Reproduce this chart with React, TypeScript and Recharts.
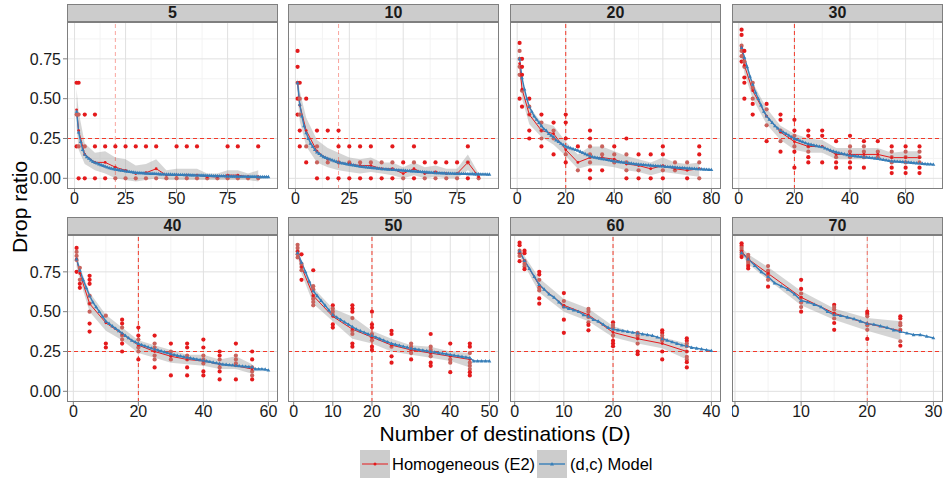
import React from 'react';
import { ComposedChart, XAxis, YAxis, CartesianGrid, Scatter, Area, Line, ReferenceLine } from 'recharts';

const RED = '#e41a1c';
const RED_DIM = '#c9625c';
const DASH_RED = '#f23a2a';
const BLUE = '#377eb8';
const FONT = '"Liberation Sans", Arial, Helvetica, sans-serif';

// ---------- data ----------
const panelLabels = ['5', '10', '20', '30', '40', '50', '60', '70'];

const xs5 = [1, 2, 5, 10, 15, 20, 25, 30, 35, 40, 45, 50, 55, 60, 65, 70, 75, 80, 85, 90];
const pts5 = [[0.6, 0.4, 0.2], [0.6, 0.4, 0.2, 0], [0.4, 0.2, 0], [0.4, 0.2, 0], [0.2, 0], [0.2, 0], [0.2, 0], [0.2, 0], [0.2, 0], [0.2, 0], [0], [0.2, 0], [0.2, 0], [0.2, 0], [0], [0], [0.2, 0], [0.2, 0], [0], [0.2, 0]];
const mean5 = [0.43, 0.3, 0.15, 0.1, 0.1, 0.07, 0.05, 0.03, 0.035, 0.06, 0.02, 0.02, 0.02, 0.02, 0.01, 0.01, 0.02, 0.02, 0.01, 0.01];
const low5 = [0.32, 0.18, 0.09, 0.05, 0.03, 0.0, -0.01, -0.02, -0.01, 0.0, -0.01, -0.01, -0.01, -0.01, -0.01, -0.01, -0.01, -0.01, -0.01, -0.02];
const high5 = [0.56, 0.42, 0.22, 0.16, 0.17, 0.13, 0.12, 0.08, 0.09, 0.12, 0.05, 0.06, 0.06, 0.06, 0.03, 0.03, 0.05, 0.05, 0.03, 0.05];
const model5 = [0.42, 0.29, 0.23, 0.18, 0.15, 0.135, 0.125, 0.115, 0.105, 0.1, 0.095, 0.09, 0.085, 0.08, 0.075, 0.07, 0.065, 0.062, 0.06, 0.057, 0.055, 0.052, 0.05, 0.048, 0.046, 0.044, 0.042, 0.04, 0.038, 0.036, 0.035, 0.035, 0.034, 0.033, 0.032, 0.031, 0.03, 0.03, 0.03, 0.029, 0.028, 0.027, 0.026, 0.026, 0.025, 0.025, 0.025, 0.024, 0.024, 0.024, 0.023, 0.023, 0.023, 0.022, 0.022, 0.022, 0.021, 0.021, 0.02, 0.02, 0.02, 0.019, 0.019, 0.018, 0.018, 0.017, 0.017, 0.016, 0.016, 0.016, 0.015, 0.015, 0.015, 0.014, 0.014, 0.014, 0.013, 0.013, 0.013, 0.013, 0.012, 0.012, 0.012, 0.012, 0.011, 0.011, 0.011, 0.011, 0.011, 0.01, 0.01, 0.01, 0.01, 0.01, 0.01];

const xs10 = [1, 2, 5, 10, 15, 20, 25, 30, 35, 40, 45, 50, 55, 60, 65, 70, 75, 80, 85];
const pts10 = [[0.8, 0.7, 0.6, 0.5, 0.4], [0.6, 0.5, 0.4, 0.3, 0.2], [0.5, 0.2, 0.1], [0.3, 0.2, 0.1, 0], [0.3, 0.1, 0], [0.3, 0.2, 0.1, 0], [0.2, 0.1, 0], [0.2, 0.1, 0], [0.2, 0.1, 0], [0.1, 0], [0.2, 0.1, 0], [0.1, 0], [0.2, 0.1, 0], [0.1, 0], [0.1, 0], [0.1, 0], [0.1, 0], [0.2, 0.1, 0], [0]];
const mean10 = [0.6, 0.46, 0.3, 0.17, 0.12, 0.1, 0.09, 0.08, 0.08, 0.06, 0.06, 0.03, 0.06, 0.03, 0.04, 0.03, 0.03, 0.1, 0.01];
const low10 = [0.52, 0.36, 0.2, 0.1, 0.07, 0.05, 0.04, 0.03, 0.04, 0.03, 0.02, 0.0, 0.02, 0.0, 0.01, 0.0, 0.0, 0.05, 0.0];
const high10 = [0.63, 0.55, 0.38, 0.24, 0.19, 0.16, 0.13, 0.12, 0.13, 0.1, 0.1, 0.07, 0.1, 0.07, 0.08, 0.06, 0.06, 0.15, 0.03];
const model10 = [0.6, 0.465, 0.39, 0.33, 0.285, 0.25, 0.22, 0.2, 0.18, 0.165, 0.155, 0.145, 0.135, 0.13, 0.125, 0.12, 0.115, 0.11, 0.105, 0.1, 0.097, 0.095, 0.093, 0.09, 0.088, 0.085, 0.083, 0.08, 0.078, 0.075, 0.073, 0.072, 0.07, 0.069, 0.068, 0.066, 0.065, 0.063, 0.062, 0.06, 0.059, 0.058, 0.057, 0.056, 0.055, 0.054, 0.053, 0.052, 0.051, 0.05, 0.049, 0.048, 0.047, 0.046, 0.045, 0.044, 0.043, 0.042, 0.041, 0.04, 0.039, 0.038, 0.037, 0.036, 0.035, 0.034, 0.034, 0.033, 0.033, 0.032, 0.032, 0.031, 0.031, 0.03, 0.03, 0.03, 0.029, 0.029, 0.029, 0.028, 0.028, 0.028, 0.027, 0.027, 0.027, 0.026, 0.026, 0.026, 0.025, 0.025];

const xs20 = [1, 2, 5, 10, 15, 20, 25, 30, 35, 40, 45, 50, 55, 60, 65, 70, 75];
const pts20 = [[0.85, 0.8, 0.75, 0.7, 0.65, 0.5], [0.75, 0.7, 0.65, 0.55, 0.45], [0.5, 0.45, 0.4, 0.3, 0.25], [0.4, 0.35, 0.3, 0.25, 0.2], [0.35, 0.3, 0.25, 0.15], [0.4, 0.35, 0.25, 0.15, 0.1], [0.2, 0.05], [0.3, 0.25, 0.2, 0.15, 0.1, 0.05, 0], [0.2, 0.15, 0.05], [0.2, 0.15, 0.1], [0.25, 0.15, 0.1, 0.05, 0], [0.15, 0.05, 0], [0.15, 0], [0.2, 0.15, 0.05, 0], [0.1, 0.05], [0.1, 0], [0.2, 0.15, 0.1, 0]];
const mean20 = [0.72, 0.56, 0.4, 0.3, 0.28, 0.18, 0.1, 0.13, 0.13, 0.12, 0.09, 0.08, 0.06, 0.08, 0.06, 0.05, 0.06];
const low20 = [0.66, 0.5, 0.34, 0.26, 0.21, 0.14, 0.06, 0.08, 0.08, 0.07, 0.05, 0.04, 0.02, 0.04, 0.03, 0.02, 0.01];
const high20 = [0.79, 0.62, 0.45, 0.35, 0.33, 0.23, 0.15, 0.2, 0.2, 0.17, 0.14, 0.12, 0.1, 0.13, 0.1, 0.09, 0.1];
const model20 = [0.75, 0.63, 0.56, 0.5, 0.45, 0.42, 0.39, 0.37, 0.35, 0.33, 0.31, 0.3, 0.28, 0.27, 0.26, 0.24, 0.23, 0.22, 0.21, 0.2, 0.195, 0.19, 0.185, 0.18, 0.175, 0.168, 0.161, 0.154, 0.147, 0.14, 0.135, 0.132, 0.129, 0.126, 0.123, 0.12, 0.117, 0.114, 0.111, 0.108, 0.106, 0.104, 0.102, 0.1, 0.098, 0.096, 0.094, 0.092, 0.09, 0.088, 0.087, 0.086, 0.084, 0.083, 0.082, 0.08, 0.079, 0.078, 0.077, 0.076, 0.074, 0.073, 0.072, 0.071, 0.07, 0.068, 0.067, 0.066, 0.065, 0.064, 0.063, 0.062, 0.061, 0.06, 0.059, 0.058, 0.057, 0.056, 0.055, 0.054];

const xs30 = [1, 2, 5, 10, 15, 20, 25, 30, 35, 40, 45, 50, 55, 60, 65];
const pts30 = [[0.933, 0.9, 0.833, 0.8, 0.767, 0.733], [0.8, 0.733, 0.7, 0.633, 0.6, 0.5], [0.6, 0.567, 0.5, 0.467, 0.4], [0.467, 0.433, 0.333, 0.233], [0.4, 0.367, 0.3, 0.233, 0.167], [0.367, 0.3, 0.267, 0.2, 0.167, 0.067], [0.3, 0.267, 0.2, 0.167, 0.133, 0.1], [0.3, 0.267, 0.1], [0.233, 0.133, 0.1, 0.067], [0.267, 0.2, 0.167, 0.133, 0.1, 0.067], [0.233, 0.2, 0.167, 0.133, 0.067], [0.233, 0.167, 0.133], [0.2, 0.167, 0.133, 0.1, 0.067, 0.033], [0.2, 0.167, 0.133, 0.1, 0.067, 0.033], [0.2, 0.167, 0.133, 0.1, 0.067, 0.033]];
const mean30 = [0.82, 0.71, 0.55, 0.39, 0.29, 0.23, 0.2, 0.2, 0.15, 0.15, 0.15, 0.15, 0.13, 0.13, 0.13];
const low30 = [0.77, 0.66, 0.5, 0.34, 0.24, 0.18, 0.16, 0.16, 0.12, 0.12, 0.12, 0.13, 0.1, 0.1, 0.1];
const high30 = [0.87, 0.77, 0.6, 0.44, 0.33, 0.28, 0.25, 0.24, 0.19, 0.19, 0.19, 0.19, 0.16, 0.17, 0.17];
const model30 = [0.82, 0.76, 0.7, 0.64, 0.59, 0.54, 0.5, 0.46, 0.42, 0.39, 0.37, 0.35, 0.33, 0.315, 0.3, 0.29, 0.28, 0.27, 0.26, 0.25, 0.243, 0.236, 0.229, 0.222, 0.216, 0.212, 0.208, 0.204, 0.2, 0.197, 0.19, 0.183, 0.176, 0.17, 0.165, 0.16, 0.156, 0.152, 0.148, 0.144, 0.142, 0.14, 0.138, 0.136, 0.134, 0.132, 0.13, 0.128, 0.126, 0.124, 0.12, 0.117, 0.114, 0.111, 0.108, 0.107, 0.106, 0.105, 0.104, 0.103, 0.101, 0.099, 0.097, 0.096, 0.095, 0.093, 0.091, 0.09, 0.089, 0.087];

const xs40 = [1, 2, 5, 10, 15, 20, 25, 30, 35, 40, 45, 50, 55];
const pts40 = [[0.9, 0.875, 0.85, 0.825, 0.75], [0.775, 0.7, 0.675, 0.65], [0.725, 0.7, 0.675, 0.6, 0.55, 0.5, 0.425, 0.375], [0.475, 0.3, 0.275], [0.45, 0.425, 0.4, 0.35, 0.325, 0.3, 0.25], [0.4, 0.35, 0.325, 0.275, 0.25, 0.2], [0.35, 0.3, 0.275, 0.225, 0.2, 0.15], [0.3, 0.25, 0.225, 0.2, 0.1], [0.3, 0.275, 0.225, 0.2, 0.15, 0.1], [0.325, 0.275, 0.225, 0.2, 0.175, 0.125, 0.1], [0.25, 0.225, 0.2, 0.15, 0.125, 0.075], [0.3, 0.225, 0.2, 0.175, 0.075], [0.25, 0.2, 0.15, 0.125, 0.1, 0.075]];
const mean40 = [0.83, 0.74, 0.55, 0.43, 0.36, 0.29, 0.25, 0.22, 0.2, 0.19, 0.17, 0.16, 0.14];
const low40 = [0.78, 0.7, 0.5, 0.38, 0.32, 0.24, 0.21, 0.18, 0.17, 0.16, 0.14, 0.14, 0.11];
const high40 = [0.87, 0.78, 0.62, 0.48, 0.4, 0.32, 0.29, 0.26, 0.23, 0.23, 0.2, 0.22, 0.17];
const model40 = [0.83, 0.76, 0.7, 0.65, 0.6, 0.56, 0.53, 0.5, 0.47, 0.44, 0.425, 0.41, 0.395, 0.38, 0.365, 0.35, 0.335, 0.32, 0.31, 0.3, 0.292, 0.285, 0.278, 0.271, 0.265, 0.259, 0.253, 0.247, 0.241, 0.235, 0.23, 0.225, 0.221, 0.217, 0.213, 0.209, 0.205, 0.201, 0.198, 0.195, 0.19, 0.186, 0.182, 0.178, 0.174, 0.17, 0.168, 0.166, 0.164, 0.162, 0.16, 0.158, 0.156, 0.154, 0.152, 0.14, 0.14, 0.14, 0.138, 0.133];

const xs50 = [1, 2, 5, 10, 15, 20, 25, 30, 35, 40, 45];
const pts50 = [[0.92, 0.9, 0.88, 0.86, 0.84], [0.86, 0.8, 0.78, 0.76, 0.7], [0.76, 0.66, 0.64, 0.6, 0.58, 0.56, 0.54], [0.54, 0.52, 0.5, 0.48, 0.42, 0.4], [0.54, 0.52, 0.5, 0.46, 0.38, 0.36, 0.3, 0.28], [0.5, 0.42, 0.4, 0.36, 0.34, 0.32, 0.28, 0.26], [0.38, 0.36, 0.28, 0.22, 0.18], [0.3, 0.28, 0.26, 0.24, 0.2], [0.36, 0.28, 0.26, 0.24, 0.22, 0.18, 0.16], [0.3, 0.2, 0.18, 0.12], [0.3, 0.28, 0.24, 0.18, 0.16, 0.14, 0.12, 0.1]];
const mean50 = [0.88, 0.78, 0.6, 0.47, 0.39, 0.34, 0.29, 0.26, 0.24, 0.22, 0.2];
const low50 = [0.85, 0.74, 0.55, 0.44, 0.33, 0.3, 0.25, 0.23, 0.21, 0.19, 0.15];
const high50 = [0.91, 0.82, 0.65, 0.52, 0.47, 0.38, 0.33, 0.29, 0.28, 0.25, 0.24];
const model50 = [0.87, 0.81, 0.75, 0.69, 0.63, 0.6, 0.57, 0.54, 0.51, 0.48, 0.465, 0.45, 0.435, 0.42, 0.405, 0.39, 0.38, 0.37, 0.36, 0.35, 0.34, 0.33, 0.32, 0.31, 0.3, 0.294, 0.288, 0.282, 0.276, 0.27, 0.266, 0.262, 0.258, 0.254, 0.25, 0.246, 0.242, 0.238, 0.234, 0.23, 0.226, 0.222, 0.218, 0.214, 0.21, 0.19, 0.19, 0.19, 0.19, 0.19];

const xs60 = [1, 2, 5, 10, 15, 20, 25, 30, 35];
const pts60 = [[0.933, 0.917, 0.883, 0.867, 0.85, 0.817], [0.883, 0.867, 0.817, 0.8, 0.783, 0.767], [0.75, 0.733, 0.7, 0.65, 0.633, 0.583, 0.55], [0.617, 0.567, 0.533, 0.45, 0.367], [0.517, 0.5, 0.467, 0.433, 0.417, 0.383], [0.433, 0.417, 0.4, 0.35, 0.317, 0.3, 0.283], [0.367, 0.35, 0.333, 0.3, 0.25, 0.233], [0.383, 0.367, 0.35, 0.333, 0.317, 0.25, 0.2], [0.333, 0.317, 0.3, 0.283, 0.25, 0.217, 0.2, 0.183, 0.15]];
const mean60 = [0.87, 0.82, 0.665, 0.54, 0.48, 0.37, 0.33, 0.3, 0.25];
const low60 = [0.85, 0.79, 0.62, 0.5, 0.44, 0.34, 0.3, 0.27, 0.2];
const high60 = [0.9, 0.85, 0.71, 0.58, 0.52, 0.41, 0.36, 0.34, 0.3];
const model60 = [0.88, 0.82, 0.77, 0.72, 0.67, 0.64, 0.61, 0.59, 0.56, 0.53, 0.52, 0.51, 0.5, 0.48, 0.47, 0.45, 0.44, 0.42, 0.4, 0.39, 0.385, 0.38, 0.375, 0.37, 0.365, 0.36, 0.355, 0.35, 0.34, 0.33, 0.32, 0.31, 0.3, 0.29, 0.285, 0.275, 0.27, 0.265, 0.26, 0.255];

const xs70 = [1, 2, 5, 10, 15, 20, 25];
const pts70 = [[0.929, 0.914, 0.9, 0.886, 0.871, 0.857, 0.843], [0.857, 0.843, 0.829, 0.814, 0.8, 0.786, 0.771], [0.786, 0.757, 0.743, 0.729, 0.7, 0.657], [0.7, 0.643, 0.614, 0.586, 0.557, 0.529, 0.5], [0.543, 0.529, 0.514, 0.486, 0.457, 0.429, 0.386], [0.5, 0.486, 0.471, 0.414, 0.386, 0.329], [0.471, 0.457, 0.429, 0.414, 0.386, 0.314, 0.286]];
const mean70 = [0.88, 0.83, 0.74, 0.59, 0.49, 0.425, 0.38];
const low70 = [0.86, 0.8, 0.7, 0.54, 0.45, 0.38, 0.32];
const high70 = [0.9, 0.86, 0.78, 0.63, 0.52, 0.46, 0.44];
const model70 = [0.87, 0.83, 0.79, 0.75, 0.72, 0.68, 0.66, 0.64, 0.61, 0.57, 0.56, 0.545, 0.53, 0.5, 0.48, 0.475, 0.465, 0.455, 0.44, 0.425, 0.42, 0.41, 0.4, 0.385, 0.375, 0.365, 0.355, 0.355, 0.345, 0.335];

const xTicks = [[0, 25, 50, 75], [0, 25, 50, 75], [0, 20, 40, 60, 80], [0, 20, 40, 60], [0, 20, 40, 60], [0, 10, 20, 30, 40, 50], [0, 10, 20, 30, 40], [0, 10, 20, 30]];
const xMinor = [[12.5, 37.5, 62.5, 87.5], [12.5, 37.5, 62.5, 87.5], [10, 30, 50, 70], [10, 30, 50, 70], [10, 30, 50], [5, 15, 25, 35, 45], [5, 15, 25, 35], [5, 15, 25]];
const yTicks = [0, 0.25, 0.5, 0.75];
const yMinor = [0.125, 0.375, 0.625, 0.875];
const threshold = 0.25;
const dVertical = 20;
const vOpacity = [0.45, 0.45, 1, 1, 1, 1, 1, 0.7];

const panelData = [
  { xs: xs5, pts: pts5, mean: mean5, low: low5, high: high5, model: model5 },
  { xs: xs10, pts: pts10, mean: mean10, low: low10, high: high10, model: model10 },
  { xs: xs20, pts: pts20, mean: mean20, low: low20, high: high20, model: model20 },
  { xs: xs30, pts: pts30, mean: mean30, low: low30, high: high30, model: model30 },
  { xs: xs40, pts: pts40, mean: mean40, low: low40, high: high40, model: model40 },
  { xs: xs50, pts: pts50, mean: mean50, low: low50, high: high50, model: model50 },
  { xs: xs60, pts: pts60, mean: mean60, low: low60, high: high60, model: model60 },
  { xs: xs70, pts: pts70, mean: mean70, low: low70, high: high70, model: model70 },
];

// ---------- layout ----------
const COL_LEFT = [67, 288, 510, 732];
const ROW_TOP = [22, 235];
const PW = 211;
const PH = 167;
const XAXIS_H = 25;
const YAXIS_W = 67;
const STRIP_H = 18;
const Y_DOMAIN: [number, number] = [-0.067, 0.9813];

const RedDot = (props: any) => {
  const { cx, cy, index } = props;
  if (cx == null || cy == null) return <g key={`rd${index}`} />;
  return <circle key={`rd${index}`} cx={cx} cy={cy} r={1.4} fill={RED} />;
};

const BlueTri = (props: any) => {
  const { cx, cy, index } = props;
  if (cx == null || cy == null) return <g key={`bt${index}`} />;
  return <path key={`bt${index}`} d={`M${cx},${cy - 2} L${cx + 1.9},${cy + 1.4} L${cx - 1.9},${cy + 1.4} Z`} fill={BLUE} />;
};

const PointShape = (props: any) => {
  const { cx, cy, payload } = props;
  if (cx == null || cy == null) return <g />;
  return <circle cx={cx} cy={cy} r={2.1} fill={payload && payload.inBand ? RED_DIM : RED} />;
};

function Panel({ idx }: { idx: number }) {
  const d = panelData[idx];
  const col = idx % 4;
  const row = Math.floor(idx / 4);
  const left = COL_LEFT[col];
  const top = ROW_TOP[row];
  const yW = col === 0 ? YAXIS_W : 0;
  const n = d.model.length;
  const xDomain: [number, number] = [1 - 0.05 * (n - 1), n + 0.05 * (n - 1)];

  const scatterData = d.xs.flatMap((x, i) =>
    d.pts[i].map((y) => ({ x, y, inBand: y >= d.low[i] - 0.012 && y <= d.high[i] + 0.012 }))
  );
  const bandData = d.xs.map((x, i) => ({ x, band: [d.low[i], d.high[i]] }));
  const meanData = d.xs.map((x, i) => ({ x, y: d.mean[i] }));
  const modelData = d.model.map((y, i) => ({ x: i + 1, y }));
  const tickStyle = { fontSize: 16, fill: '#1a1a1a', fontFamily: FONT };

  return (
    <>
      <div
        style={{
          position: 'absolute', left, top: top - STRIP_H, width: PW, height: STRIP_H,
          background: '#cccccc', border: '1px solid #7f7f7f', boxSizing: 'border-box',
          display: 'flex', alignItems: 'center', justifyContent: 'center',
          fontWeight: 'bold', fontSize: 16, color: '#1a1a1a', fontFamily: FONT, lineHeight: 1,
        }}
      >
        {panelLabels[idx]}
      </div>
      <div style={{ position: 'absolute', left: left - yW, top }}>
        <ComposedChart width={PW + yW} height={PH + XAXIS_H} margin={{ top: 0, right: 0, bottom: 0, left: 0 }}>
          <CartesianGrid horizontalValues={yMinor} verticalValues={xMinor[idx]} stroke="#f3f3f3" strokeWidth={1} />
          <CartesianGrid horizontalValues={yTicks} verticalValues={xTicks[idx]} stroke="#e0e0e0" strokeWidth={1} />
          <XAxis
            type="number" dataKey="x" domain={xDomain} allowDataOverflow ticks={xTicks[idx]} interval={0}
            height={XAXIS_H} axisLine={false} tickLine={{ stroke: '#7f7f7f' }} tickSize={4} tickMargin={0}
            tick={tickStyle}
          />
          <YAxis
            type="number" domain={Y_DOMAIN} allowDataOverflow ticks={yTicks} interval={0}
            hide={col !== 0} width={YAXIS_W} axisLine={false} tickLine={{ stroke: '#7f7f7f' }}
            tickSize={4} tickMargin={2} tick={tickStyle} tickFormatter={(v: number) => v.toFixed(2)}
          />
          <ReferenceLine y={threshold} stroke={DASH_RED} strokeDasharray="4 3" strokeWidth={1} />
          <ReferenceLine x={dVertical} stroke={DASH_RED} strokeOpacity={vOpacity[idx]} strokeDasharray="4 3" strokeWidth={1} />
          <Area
            data={bandData} dataKey="band" type="linear" fill="#9a9a9a" fillOpacity={0.42}
            stroke="none" isAnimationActive={false} dot={false} activeDot={false}
          />
          <Scatter data={scatterData} dataKey="y" shape={PointShape} isAnimationActive={false} />
          <Line
            data={meanData} dataKey="y" type="linear" stroke={RED} strokeWidth={1}
            dot={RedDot} activeDot={false} isAnimationActive={false}
          />
          <Line
            data={modelData} dataKey="y" type="linear" stroke={BLUE} strokeWidth={1.4}
            dot={BlueTri} activeDot={false} isAnimationActive={false}
          />
        </ComposedChart>
      </div>
      <div
        style={{
          position: 'absolute', left, top, width: PW, height: PH,
          border: '1px solid #7f7f7f', boxSizing: 'border-box', pointerEvents: 'none',
        }}
      />
    </>
  );
}

function LegendKey({ color, tri }: { color: string; tri: boolean }) {
  return (
    <svg width={30} height={28} style={{ display: 'block' }}>
      <rect x={0} y={0} width={30} height={28} fill="#9a9a9a" fillOpacity={0.5} />
      <line x1={2} y1={14} x2={28} y2={14} stroke={color} strokeWidth={tri ? 1.4 : 1} />
      {tri ? <path d="M15,12 L17,15.4 L13,15.4 Z" fill={color} /> : <circle cx={15} cy={14} r={1.5} fill={color} />}
    </svg>
  );
}

export default function App() {
  return (
    <div
      style={{
        position: 'absolute', left: 0, top: 0, width: 947, height: 484, background: '#ffffff',
        overflow: 'hidden', fontFamily: FONT,
      }}
    >
      {panelLabels.map((_, i) => (
        <Panel key={i} idx={i} />
      ))}
      <div
        style={{
          position: 'absolute', left: 19, top: 207, transform: 'translate(-50%, -50%) rotate(-90deg)',
          fontSize: 21, whiteSpace: 'nowrap', color: '#000', lineHeight: 1,
        }}
      >
        Drop ratio
      </div>
      <div
        style={{
          position: 'absolute', left: 505, top: 433, transform: 'translate(-50%, -50%)',
          fontSize: 21, whiteSpace: 'nowrap', color: '#000', lineHeight: 1,
        }}
      >
        Number of destinations (D)
      </div>
      <div style={{ position: 'absolute', left: 360, top: 450 }}>
        <LegendKey color={RED} tri={false} />
      </div>
      <div style={{ position: 'absolute', left: 392, top: 464, transform: 'translateY(-50%)', fontSize: 16.5, lineHeight: 1, whiteSpace: 'nowrap' }}>
        Homogeneous (E2)
      </div>
      <div style={{ position: 'absolute', left: 537, top: 450 }}>
        <LegendKey color={BLUE} tri={true} />
      </div>
      <div style={{ position: 'absolute', left: 570, top: 464, transform: 'translateY(-50%)', fontSize: 16.5, lineHeight: 1, whiteSpace: 'nowrap' }}>
        (d,c) Model
      </div>
    </div>
  );
}
